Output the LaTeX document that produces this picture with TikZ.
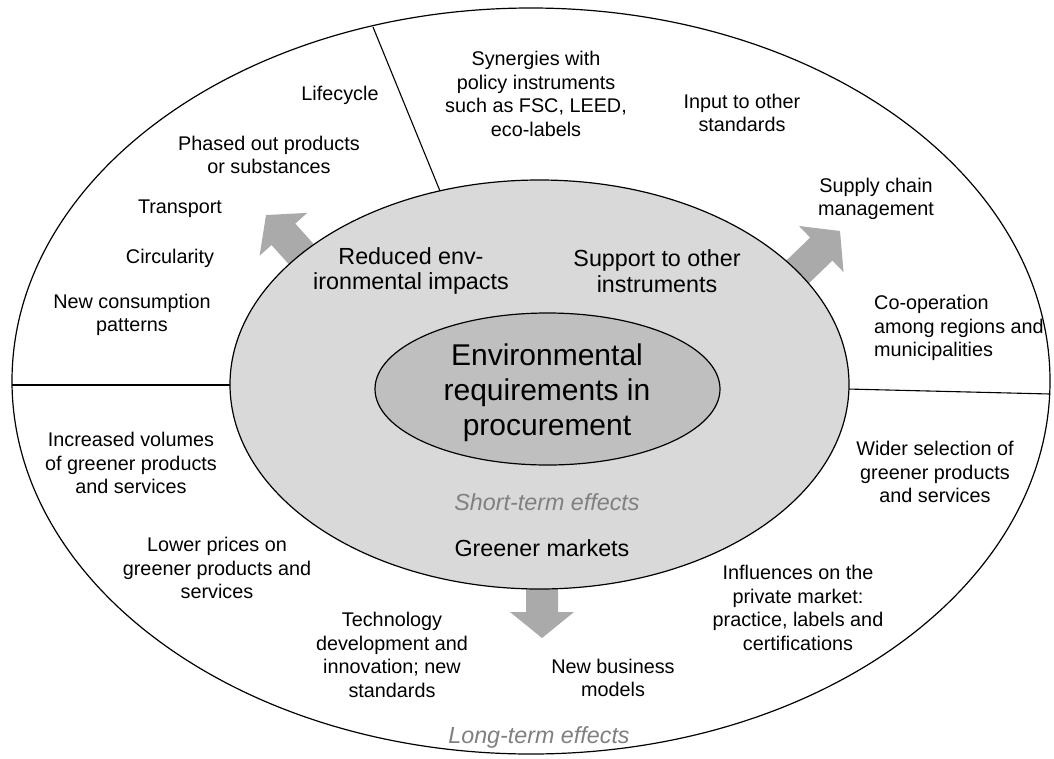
\documentclass[tikz,border=0pt]{standalone}
\usepackage{fontspec}
\setmainfont{Liberation Sans}
\definecolor{arrowgray}{RGB}{170,170,170}
\definecolor{midgray}{RGB}{217,217,217}
\definecolor{innergray}{RGB}{191,191,191}
\definecolor{notegray}{RGB}{128,128,128}
\newcommand{\grarrow}[2]{%
  \fill[arrowgray, shift={(#1)}, rotate=#2]
    (0,0) -- (-26,32) -- (-26,16) -- (-90,16) -- (-90,-16) -- (-26,-16) -- (-26,-32) -- cycle;}
\begin{document}
\begin{tikzpicture}[x=1pt,y=-1pt,
  ring/.style={draw=black, line width=1.2pt},
  divider/.style={draw=black, line width=1.1pt},
  small/.style={font=\fontsize{19.8}{23.5}\selectfont, align=center, inner sep=0pt},
  medium/.style={font=\fontsize{23.3}{25.5}\selectfont, align=center, inner sep=0pt},
  big/.style={font=\fontsize{30}{35}\selectfont, align=center, inner sep=0pt},
  note/.style={font=\fontsize{23.3}{25.5}\selectfont\itshape, align=center, inner sep=0pt, text=notegray},
]
\useasboundingbox (0,0) rectangle (1054,758);
\fill[white] (0,0) rectangle (1054,758);
% outer ring
\draw[ring, fill=white] (531,381) ellipse [x radius=519pt, y radius=373pt];
% divider end points
\coordinate (topO) at (373,27);
\coordinate (topM) at (440,191);
\coordinate (leftO) at (12,385);
\coordinate (leftM) at (232,385);
\coordinate (rightM) at (847,389);
\coordinate (rightO) at (1050,394);
\draw[divider] (topO) -- (topM);
\draw[divider] (leftO) -- (leftM);
\draw[divider] (rightM) -- (rightO);
% block arrows
\coordinate (tipUL) at (266,215);
\coordinate (tipUR) at (840,231);
\coordinate (tipD) at (542,638);
\grarrow{tipUL}{132}
\grarrow{tipUR}{44}
\grarrow{tipD}{-90}
% middle ring
\draw[ring, fill=midgray] (539.5,384.5) ellipse [x radius=309.5pt, y radius=204.5pt];
% inner ellipse
\draw[ring, fill=innergray] (547.5,389) ellipse [x radius=172.5pt, y radius=76pt];
% centre
\node[big] (core) at (547,393) {Environmental\\requirements in\\procurement};
% short-term
\node[medium] (reduced) at (411,271) {Reduced env-\\ironmental impacts};
\node[medium] (support) at (657,271) {Support to other\\instruments};
\node[note] (shortterm) at (547,502) {Short-term effects};
\node[medium] (greener) at (542,548) {Greener markets};
% upper left sector
\node[small] (lifecycle) at (340,95) {Lifecycle};
\node[small] (phased) at (269,155) {Phased out products\\or substances};
\node[small] (transport) at (180,209) {Transport};
\node[small] (circ) at (170,258) {Circularity};
\node[small] (newcons) at (132,315) {New consumption\\patterns};
% upper right sector
\node[small] (synergies) at (536,94) {Synergies with\\policy instruments\\such as FSC, LEED,\\eco-labels};
\node[small] (input) at (742,113) {Input to other\\standards};
\node[small] (supply) at (876,199) {Supply chain\\management};
\node[small, align=left, anchor=west] (coop) at (874,328) {Co-operation\\among regions and\\municipalities};
% lower sectors
\node[small] (increased) at (131,463) {Increased volumes\\of greener products\\and services};
\node[small] (lower) at (217,568) {Lower prices on\\greener products and\\services};
\node[small] (tech) at (392,655) {Technology\\development and\\innovation; new\\standards};
\node[small] (business) at (613,678) {New business\\models};
\node[small] (influences) at (798,608) {Influences on the\\private market:\\practice, labels and\\certifications};
\node[small] (wider) at (935,472) {Wider selection of\\greener products\\and services};
\node[note] (longterm) at (539,737) {Long-term effects};
\end{tikzpicture}
\end{document}
